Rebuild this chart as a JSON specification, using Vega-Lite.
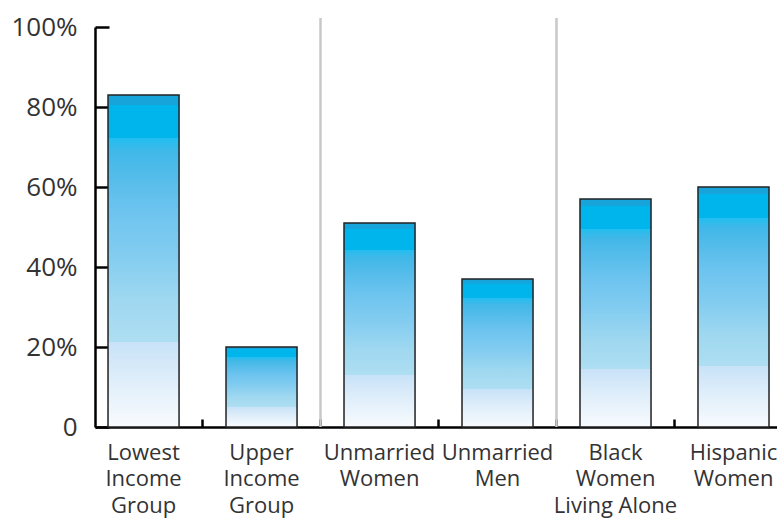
{
  "$schema": "https://vega.github.io/schema/vega-lite/v6.json",
  "width": 682,
  "height": 400,
  "autosize": {"type": "none"},
  "padding": {"left": 95, "top": 27, "right": 0, "bottom": 91},
  "background": "white",
  "config": {"view": {"stroke": null}, "font": "Open Sans"},
  "layer": [
    {
      "data": {
        "values": [
          {"group": "Lowest Income Group", "pct": 83},
          {"group": "Upper Income Group", "pct": 20},
          {"group": "Unmarried Women", "pct": 51},
          {"group": "Unmarried Men", "pct": 37},
          {"group": "Black Women Living Alone", "pct": 57},
          {"group": "Hispanic Women", "pct": 60}
        ]
      },
      "mark": {
        "type": "bar",
        "stroke": "#222222",
        "strokeWidth": 1.5,
        "color": {
          "gradient": "linear",
          "x1": 0, "y1": 1, "x2": 0, "y2": 0,
          "stops": [
            {"offset": 0, "color": "#F8FBFE"},
            {"offset": 0.14, "color": "#DFEEFA"},
            {"offset": 0.255, "color": "#C8E2F8"},
            {"offset": 0.256, "color": "#AEDEF2"},
            {"offset": 0.38, "color": "#9FD8F0"},
            {"offset": 0.52, "color": "#82CCF0"},
            {"offset": 0.65, "color": "#6DC4EF"},
            {"offset": 0.74, "color": "#58BDEB"},
            {"offset": 0.83, "color": "#40B8E8"},
            {"offset": 0.869, "color": "#22BEF0"},
            {"offset": 0.87, "color": "#00B4EC"},
            {"offset": 0.969, "color": "#00B4EC"},
            {"offset": 0.97, "color": "#17A4DA"},
            {"offset": 1, "color": "#17A4DA"}
          ]
        }
      },
      "encoding": {
        "x": {
          "field": "group",
          "type": "nominal",
          "sort": null,
          "scale": {"paddingInner": 0.398, "paddingOuter": 0.089, "align": 0.62},
          "axis": {
            "title": null,
            "labelAngle": 0,
            "domainColor": "black",
            "domainWidth": 2.5,
            "bandPosition": -0.331,
            "tickSize": -8,
            "tickWidth": 2.5,
            "tickColor": {"condition": {"test": "datum.value === 'Lowest Income Group'", "value": "transparent"}, "value": "black"},
            "grid": false,
            "labelExpr": "datum.label == 'Black Women Living Alone' ? ['Black', 'Women', 'Living Alone'] : split(datum.label, ' ')",
            "labelFontSize": 22,
            "labelLineHeight": 26.5,
            "labelColor": "#333333",
            "labelPadding": 23
          }
        },
        "y": {
          "field": "pct",
          "type": "quantitative",
          "scale": {"domain": [0, 100]},
          "axis": {
            "title": null,
            "grid": false,
            "values": [0, 20, 40, 60, 80, 100],
            "labelExpr": "datum.value == 0 ? '0' : datum.value + '%'",
            "tickSize": -14,
            "tickWidth": 2.5,
            "tickColor": "black",
            "domainColor": "black",
            "domainWidth": 2.5,
            "labelFontSize": 26,
            "labelColor": "#333333",
            "labelPadding": 32
          }
        }
      }
    },
    {
      "data": {
        "values": [
          {"group": "Unmarried Women"},
          {"group": "Black Women Living Alone"}
        ]
      },
      "mark": {"type": "rule", "color": "#C8C8C8", "strokeWidth": 2.5},
      "encoding": {
        "x": {"field": "group", "type": "nominal", "sort": null, "bandPosition": -0.331},
        "y": {"datum": 0},
        "y2": {"datum": 102.25}
      }
    }
  ]
}
